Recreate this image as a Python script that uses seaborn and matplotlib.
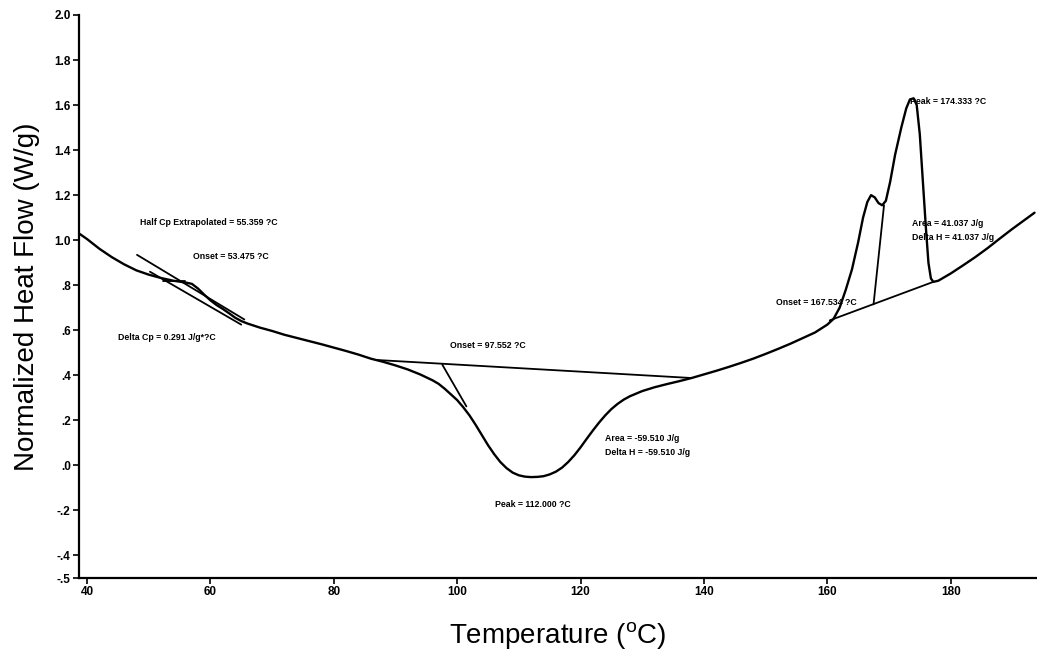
import matplotlib
matplotlib.use("Agg")
import matplotlib.pyplot as plt
import seaborn as sns
import pandas as pd

# DSC heating scan: temperature (°C) and normalized heat flow (W/g)
temperature = [
    38.8, 40, 42, 44, 46, 48, 50, 52, 54, 56, 57, 58, 59, 60, 61, 62, 63, 64, 65, 66,
    68, 70, 72, 74, 76, 78, 80, 82, 84, 86, 88, 90, 92, 94, 96, 97, 98, 99, 100, 101,
    102, 103, 104, 105, 106, 107, 108, 109, 110, 111, 112, 113, 114, 115, 116, 117, 118,
    119, 120, 121, 122, 123, 124, 125, 126, 127, 128, 130, 132, 134, 136, 138, 140, 142,
    144, 146, 148, 150, 152, 154, 156, 158, 160, 161, 162, 163, 164, 165, 165.8, 166.5,
    167.1, 167.7, 168.3, 168.9, 169.5, 170.2, 171, 172, 172.8, 173.4, 174, 174.5, 175,
    175.5, 176, 176.4, 176.8, 177.2, 178, 180, 182, 184, 186, 188, 190, 192, 193.6,
]
heat_flow = [
    1.028, 1.005, 0.962, 0.925, 0.893, 0.866, 0.847, 0.832, 0.820, 0.812, 0.806, 0.785,
    0.758, 0.733, 0.712, 0.695, 0.676, 0.656, 0.641, 0.630, 0.612, 0.597, 0.580, 0.566,
    0.552, 0.538, 0.523, 0.508, 0.492, 0.474, 0.460, 0.444, 0.426, 0.404, 0.378, 0.362,
    0.340, 0.315, 0.290, 0.258, 0.222, 0.180, 0.135, 0.090, 0.050, 0.015, -0.012, -0.032,
    -0.044, -0.050, -0.052, -0.051, -0.048, -0.040, -0.028, -0.010, 0.015, 0.045, 0.080,
    0.118, 0.155, 0.190, 0.222, 0.250, 0.273, 0.292, 0.307, 0.330, 0.347, 0.361, 0.374,
    0.388, 0.404, 0.420, 0.437, 0.455, 0.474, 0.495, 0.517, 0.540, 0.565, 0.590, 0.625,
    0.650, 0.700, 0.780, 0.870, 0.990, 1.100, 1.170, 1.200, 1.190, 1.165, 1.155, 1.175,
    1.260, 1.380, 1.500, 1.585, 1.625, 1.630, 1.600, 1.470, 1.260, 1.050, 0.900, 0.830,
    0.815, 0.820, 0.852, 0.888, 0.925, 0.965, 1.008, 1.050, 1.090, 1.122,
]

# Analysis construction lines: (x0, x1), (y0, y1)
tg_post_baseline = ([48.1, 65.5], [0.935, 0.648])
tg_pre_baseline = ([50.2, 65.0], [0.860, 0.625])
tg_step = ([52.3, 55.8], [0.818, 0.818])
endo_baseline = ([87.0, 138.0], [0.468, 0.388])
endo_tangent = ([97.6, 101.5], [0.447, 0.262])
melt_baseline = ([160.4, 177.2], [0.644, 0.815])
melt_tangent = ([167.5, 169.2], [0.715, 1.155])

# Result annotations: (x, y, text)
annotations = [
    (48.6, 1.080, "Half Cp Extrapolated = 55.359 ?C"),
    (57.2, 0.929, "Onset = 53.475 ?C"),
    (45.0, 0.569, "Delta Cp = 0.291 J/g*?C"),
    (98.8, 0.533, "Onset = 97.552 ?C"),
    (124.0, 0.120, "Area = -59.510 J/g"),
    (124.0, 0.058, "Delta H = -59.510 J/g"),
    (106.1, -0.173, "Peak = 112.000 ?C"),
    (151.7, 0.724, "Onset = 167.534 ?C"),
    (173.7, 1.076, "Area = 41.037 J/g"),
    (173.7, 1.013, "Delta H = 41.037 J/g"),
    (173.4, 1.618, "Peak = 174.333 ?C"),
]

x_ticks = [40, 60, 80, 100, 120, 140, 160, 180]
y_ticks = [2.0, 1.8, 1.6, 1.4, 1.2, 1.0, 0.8, 0.6, 0.4, 0.2, 0.0, -0.2, -0.4, -0.5]
y_tick_labels = ["2.0", "1.8", "1.6", "1.4", "1.2", "1.0", ".8", ".6", ".4", ".2", ".0",
                 "-.2", "-.4", "-.5"]

sns.set_theme(style="ticks")
plt.rcParams["font.family"] = ["Liberation Sans", "DejaVu Sans"]
plt.rcParams["mathtext.fontset"] = "custom"
plt.rcParams["mathtext.rm"] = "Liberation Sans"
plt.rcParams["text.color"] = "black"
plt.rcParams["axes.labelcolor"] = "black"
plt.rcParams["xtick.color"] = "black"
plt.rcParams["ytick.color"] = "black"

fig = plt.figure(figsize=(10.37, 6.63), dpi=100)
ax = fig.add_axes([0.0762, 0.1282, 0.9238, 0.8492])

df = pd.DataFrame({"Temperature": temperature, "HeatFlow": heat_flow})
sns.lineplot(data=df, x="Temperature", y="HeatFlow", ax=ax, color="black",
             linewidth=1.7, sort=False)

for xs, ys in [tg_post_baseline, tg_pre_baseline, tg_step, endo_baseline,
               endo_tangent, melt_baseline, melt_tangent]:
    sns.lineplot(x=xs, y=ys, ax=ax, color="black", linewidth=1.3, sort=False)

for x, y, s in annotations:
    ax.text(x, y, s, fontsize=6.3, fontweight="bold", ha="left", va="center",
            color="black")

ax.set_xlim(38.7, 194.0)
ax.set_ylim(-0.5, 2.0)
ax.set_xticks(x_ticks)
ax.set_xticklabels([str(t) for t in x_ticks], fontsize=8.5, fontweight="bold")
ax.set_yticks(y_ticks)
ax.set_yticklabels(y_tick_labels, fontsize=8.5, fontweight="bold")
ax.tick_params(axis="both", direction="out", length=4, width=1.2, color="black",
               labelcolor="black", pad=2)

for side in ["top", "right"]:
    ax.spines[side].set_visible(False)
for side in ["left", "bottom"]:
    ax.spines[side].set_linewidth(1.6)
    ax.spines[side].set_color("black")

ax.set_xlabel(r"Temperature ($^{\mathrm{o}}$C)", fontsize=20, labelpad=16,
              color="black")
ax.set_ylabel("Normalized Heat Flow (W/g)", fontsize=20, labelpad=10,
              color="black")

fig.savefig("out.png", dpi=100)
